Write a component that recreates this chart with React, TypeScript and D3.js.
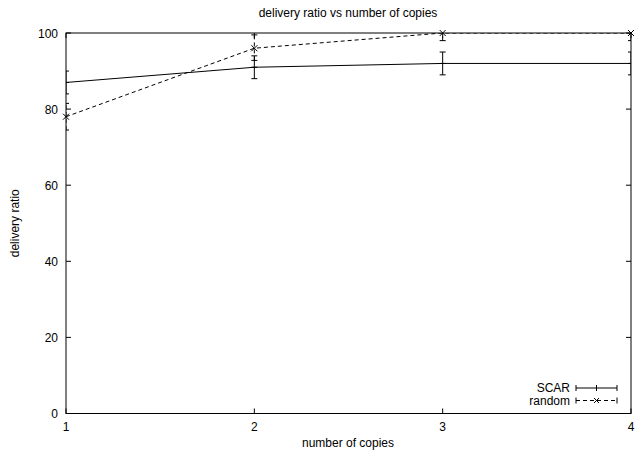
import React from "react";
import * as d3 from "d3";

const copies = [1, 2, 3, 4];
const scarValues = [87, 91, 92, 92];
const scarLow = [84, 88, 89, 89];
const scarHigh = [90, 94, 95, 95];
const randomValues = [78, 96, 100, 100];
const randomLow = [74.5, 92.8, 98, 98];
const randomHigh = [81.5, 99.5, 102, 102];
const yTicks = [0, 20, 40, 60, 80, 100];
const xTicks = [1, 2, 3, 4];

const W = 636;
const H = 455;
const L = 66;
const R = 631;
const T = 33;
const B = 413.5;
const FONT = "'Liberation Sans', Arial, sans-serif";
const FS = 12;

export default function App() {
  const x = d3.scaleLinear().domain([1, 4]).range([L, R]);
  const y = d3.scaleLinear().domain([0, 100]).range([B, T]);
  const line = d3
    .line<[number, number]>()
    .x((d) => x(d[0]))
    .y((d) => y(d[1]));
  const scarPts = copies.map((c, i) => [c, scarValues[i]] as [number, number]);
  const randPts = copies.map((c, i) => [c, randomValues[i]] as [number, number]);
  const cap = 3;
  const dash = "4,3";
  return (
    <svg
      width={W}
      height={H}
      style={{ position: "absolute", left: 0, top: 0, background: "#fff" }}
      fontFamily={FONT}
    >
      <defs>
        <clipPath id="plot">
          <rect x={L} y={T} width={R - L} height={B - T} />
        </clipPath>
      </defs>
      <rect x={0} y={0} width={W} height={H} fill="#fff" />
      {/* title */}
      <text x={348} y={17} fontSize={FS} textAnchor="middle" fill="#000">
        delivery ratio vs number of copies
      </text>
      {/* y ticks */}
      {yTicks.map((t) => (
        <g key={"y" + t}>
          <line x1={L} x2={L + 5} y1={y(t)} y2={y(t)} stroke="#000" />
          <line x1={R} x2={R - 5} y1={y(t)} y2={y(t)} stroke="#000" />
          <text x={58} y={y(t) + 4.5} fontSize={FS} textAnchor="end" fill="#000">
            {t}
          </text>
        </g>
      ))}
      {/* x ticks */}
      {xTicks.map((t) => (
        <g key={"x" + t}>
          <line x1={x(t)} x2={x(t)} y1={B} y2={B - 5} stroke="#000" />
          <line x1={x(t)} x2={x(t)} y1={T} y2={T + 5} stroke="#000" />
          <text x={x(t)} y={431} fontSize={FS} textAnchor="middle" fill="#000">
            {t}
          </text>
        </g>
      ))}
      {/* border */}
      <rect x={L} y={T} width={R - L} height={B - T} fill="none" stroke="#000" />
      {/* axis labels */}
      <text x={348} y={447} fontSize={FS} textAnchor="middle" fill="#000">
        number of copies
      </text>
      <text
        transform={`translate(19,${(T + B) / 2}) rotate(-90)`}
        fontSize={FS}
        textAnchor="middle"
        fill="#000"
      >
        delivery ratio
      </text>
      <g clipPath="url(#plot)">
        {/* SCAR */}
        <path d={line(scarPts) || ""} fill="none" stroke="#000" />
        {copies.map((c, i) => (
          <g key={"s" + i} stroke="#000">
            <line x1={x(c)} x2={x(c)} y1={y(scarLow[i])} y2={y(scarHigh[i])} />
            <line x1={x(c) - cap} x2={x(c) + cap} y1={y(scarLow[i])} y2={y(scarLow[i])} />
            <line x1={x(c) - cap} x2={x(c) + cap} y1={y(scarHigh[i])} y2={y(scarHigh[i])} />
            <line x1={x(c) - 3} x2={x(c) + 3} y1={y(scarValues[i])} y2={y(scarValues[i])} />
          </g>
        ))}
        {/* random */}
        <path d={line(randPts) || ""} fill="none" stroke="#000" strokeDasharray={dash} />
        {copies.map((c, i) => (
          <g key={"r" + i} stroke="#000">
            <line
              x1={x(c)}
              x2={x(c)}
              y1={y(randomLow[i])}
              y2={y(randomHigh[i])}
              strokeDasharray={dash}
            />
            <line x1={x(c) - cap} x2={x(c) + cap} y1={y(randomLow[i])} y2={y(randomLow[i])} />
            <line x1={x(c) - cap} x2={x(c) + cap} y1={y(randomHigh[i])} y2={y(randomHigh[i])} />
          </g>
        ))}
      </g>
      {/* random x markers */}
      {copies.map((c, i) => (
        <g key={"m" + i} stroke="#000">
          <line x1={x(c) - 3} x2={x(c) + 3} y1={y(randomValues[i]) - 3} y2={y(randomValues[i]) + 3} />
          <line x1={x(c) - 3} x2={x(c) + 3} y1={y(randomValues[i]) + 3} y2={y(randomValues[i]) - 3} />
        </g>
      ))}
      {/* legend */}
      <g>
        <text x={570} y={392} fontSize={FS} textAnchor="end" fill="#000">
          SCAR
        </text>
        <g stroke="#000">
          <line x1={576} x2={617} y1={388} y2={388} />
          <line x1={576} x2={576} y1={385} y2={391} />
          <line x1={617} x2={617} y1={385} y2={391} />
          <line x1={596.5} x2={596.5} y1={385} y2={391} />
        </g>
        <text x={570} y={404.5} fontSize={FS} textAnchor="end" fill="#000">
          random
        </text>
        <g stroke="#000">
          <line x1={576} x2={617} y1={400.5} y2={400.5} strokeDasharray="4,3" />
          <line x1={576} x2={576} y1={397.5} y2={403.5} />
          <line x1={617} x2={617} y1={397.5} y2={403.5} />
          <line x1={594} x2={599} y1={398} y2={403} />
          <line x1={594} x2={599} y1={403} y2={398} />
        </g>
      </g>
    </svg>
  );
}
